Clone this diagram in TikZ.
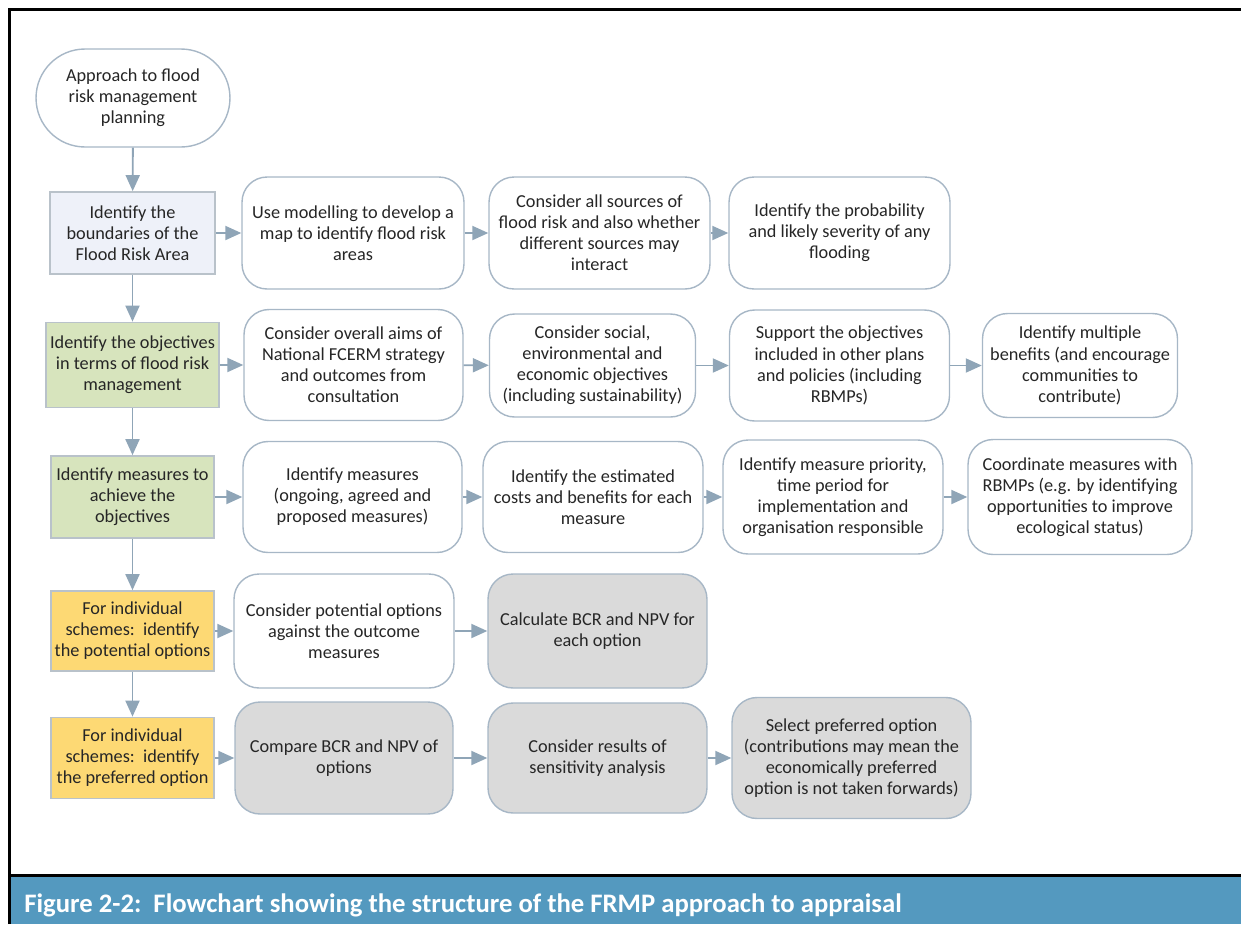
\documentclass[tikz,border=0pt]{standalone}
\usepackage{fontspec}
\setmainfont{Carlito}
\usetikzlibrary{arrows.meta, positioning}

\definecolor{linkblue}{HTML}{8FA5B7}
\definecolor{edgeblue}{HTML}{A7B7C6}
\definecolor{leadedge}{HTML}{B9C2CA}
\definecolor{textgray}{HTML}{262626}
\definecolor{areablue}{HTML}{EEF1F9}
\definecolor{aimgreen}{HTML}{D7E4BD}
\definecolor{schemeyellow}{HTML}{FDD974}
\definecolor{calcgray}{HTML}{DADADA}
\definecolor{captionblue}{HTML}{5499BF}

\newcommand{\boxfont}{\fontsize{10.4}{12}\selectfont}

\begin{document}
\begin{tikzpicture}[x=0.02cm, y=-0.02cm,
    >={Triangle[length=0.32cm,width=0.28cm]}, ->,
    link/.style={draw=linkblue, fill=linkblue, line width=1.1pt},
    step box/.style={rectangle, draw=edgeblue, line width=0.8pt, rounded corners=0.5cm,
        fill=white, align=center, font=\boxfont, text=textgray, inner sep=2pt},
    calc box/.style={step box, fill=calcgray},
    lead box/.style={rectangle, draw=leadedge, line width=1pt, align=center,
        font=\boxfont, text=textgray, inner sep=2pt},
    start node/.style={step box, rounded corners=0.98cm}]

    \useasboundingbox (0,0) rectangle (1241,924);

    % frame and caption
    \fill[captionblue] (9,877) rectangle (1241,924);
    \draw[-, line width=1.7pt] (9.7,924) -- (9.7,9.7) -- (1241,9.7);
    \draw[-, line width=1.7pt] (9.7,875.5) -- (1241,875.5);
    \node[anchor=base west, text=white, font=\fontsize{15.2}{17}\selectfont\bfseries, inner sep=0pt] (caption)
        at (24,912) {Figure 2-2:\ \ Flowchart showing the structure of the FRMP approach to appraisal};

    % left column
    \node[start node, minimum width=3.88cm, minimum height=1.96cm] (start) at (133,98)
        {Approach to flood\\risk management\\planning};
    \node[lead box, fill=areablue, minimum width=3.3cm, minimum height=1.64cm] (l1) at (132.5,233)
        {Identify the\\boundaries of the\\Flood Risk Area};
    \node[lead box, fill=aimgreen, minimum width=3.46cm, minimum height=1.7cm] (l2) at (132.5,365)
        {Identify the objectives\\in terms of flood risk\\management};
    \node[lead box, fill=aimgreen, minimum width=3.26cm, minimum height=1.64cm] (l3) at (132.5,497)
        {Identify measures to\\achieve the\\objectives};
    \node[lead box, fill=schemeyellow, minimum width=3.26cm, minimum height=1.6cm] (l4) at (132.5,631)
        {For individual\\schemes:\ \ identify\\the potential options};
    \node[lead box, fill=schemeyellow, minimum width=3.26cm, minimum height=1.62cm] (l5) at (132.5,758)
        {For individual\\schemes:\ \ identify\\the preferred option};

    % first row
    \node[step box, minimum width=4.44cm, minimum height=2.24cm] (r11) at (353,233)
        {Use modelling to develop a\\map to identify flood risk\\areas};
    \node[step box, minimum width=4.42cm, minimum height=2.24cm] (r12) at (599.5,233)
        {Consider all sources of\\flood risk and also whether\\different sources may\\interact};
    \node[step box, minimum width=4.42cm, minimum height=2.24cm] (r13) at (839.5,233)
        {Identify the probability\\and likely severity of any\\flooding};

    % second row
    \node[step box, minimum width=4.38cm, minimum height=2.22cm] (r21) at (353.5,365)
        {Consider overall aims of\\National FCERM strategy\\and outcomes from\\consultation};
    \node[step box, minimum width=4.12cm, minimum height=2.06cm] (r22) at (592.5,365.5)
        {Consider social,\\environmental and\\economic objectives\\(including sustainability)};
    \node[step box, minimum width=4.4cm, minimum height=2.22cm] (r23) at (839.5,365.5)
        {Support the objectives\\included in other plans\\and policies (including\\RBMPs)};
    \node[step box, minimum width=3.9cm, minimum height=2.08cm] (r24) at (1080,365.5)
        {Identify multiple\\benefits (and encourage\\communities to\\contribute)};

    % third row
    \node[step box, minimum width=4.38cm, minimum height=2.22cm] (r31) at (352.5,497)
        {Identify measures\\(ongoing, agreed and\\proposed measures)};
    \node[step box, minimum width=4.4cm, minimum height=2.22cm] (r32) at (593,497)
        {Identify the estimated\\costs and benefits for each\\measure};
    \node[step box, minimum width=4.4cm, minimum height=2.28cm] (r33) at (833,497)
        {Identify measure priority,\\time period for\\implementation and\\organisation responsible};
    \node[step box, minimum width=4.48cm, minimum height=2.3cm] (r34) at (1080,497)
        {Coordinate measures with\\RBMPs (e.g. by identifying\\opportunities to improve\\ecological status)};

    % fourth row
    \node[step box, minimum width=4.4cm, minimum height=2.28cm] (r41) at (344,631)
        {Consider potential options\\against the outcome\\measures};
    \node[calc box, minimum width=4.38cm, minimum height=2.28cm] (r42) at (597.5,631)
        {Calculate BCR and NPV for\\each option};

    % fifth row
    \node[calc box, minimum width=4.36cm, minimum height=2.24cm] (r51) at (344,758)
        {Compare BCR and NPV of\\options};
    \node[calc box, minimum width=4.38cm, minimum height=2.2cm] (r52) at (597.5,758)
        {Consider results of\\sensitivity analysis};
    \node[calc box, minimum width=4.78cm, minimum height=2.42cm] (r53) at (851.5,758)
        {Select preferred option\\(contributions may mean the\\economically preferred\\option is not taken forwards)};

    \path[link]
        (start) edge (l1)
        (l1) edge (l2)
             edge (r11)
        (l2) edge (l3)
             edge (r21)
        (l3) edge (l4)
             edge (r31)
        (l4) edge (l5)
             edge (r41)
        (l5) edge (r51)
        (r11) edge (r12)
        (r12) edge (r13)
        (r21) edge (r22)
        (r22) edge (r23)
        (r23) edge (r24)
        (r31) edge (r32)
        (r32) edge (r33)
        (r33) edge (r34)
        (r41) edge (r42)
        (r51) edge (r52)
        (r52) edge (r53);
\end{tikzpicture}
\end{document}
